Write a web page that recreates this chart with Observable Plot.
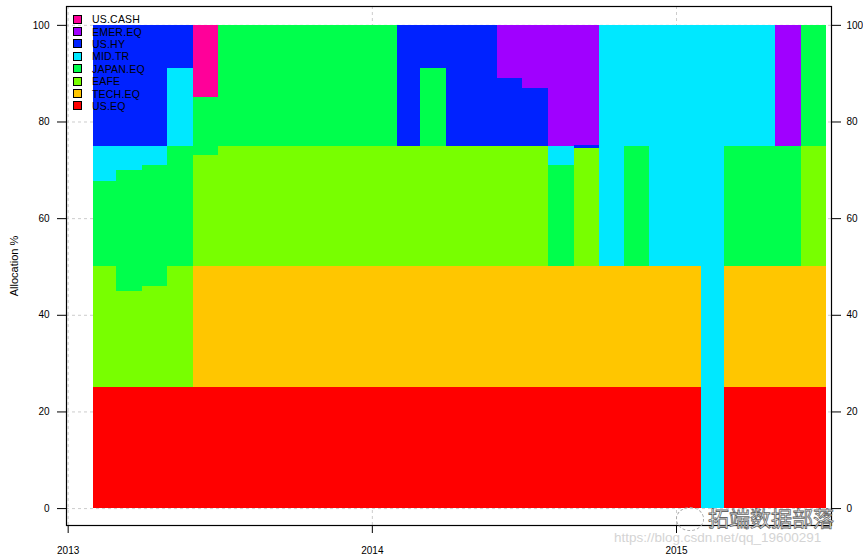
<!DOCTYPE html>
<html>
<head>
<meta charset="utf-8">
<script src="https://cdn.jsdelivr.net/npm/d3@7"></script>
<script src="https://cdn.jsdelivr.net/npm/@observablehq/plot@0.6"></script>
<style>
  html, body { margin: 0; padding: 0; background: #fff; }
  #wrap { position: relative; width: 863px; height: 559px; overflow: hidden; font-family: "Liberation Sans", Arial, sans-serif; }
  #wrap svg g[aria-label="y-axis label"] text { font-size: 11px; }
  #legend { position: absolute; left: 73px; top: 13px; font-size: 10.5px; color: #000; }
  #legend .row { height: 12.4px; display: flex; align-items: center; white-space: nowrap; }
  #legend .sw { width: 7px; height: 7px; border: 1px solid #000; margin-right: 10px; }
  #legend .lb { font-weight: normal; letter-spacing: 0.2px; }
  .wm1 { position: absolute; left: 708px; top: 507px; line-height: 1; font-family: "Noto Sans CJK SC", sans-serif; font-size: 21px; color: #fff; -webkit-text-stroke: 0.8px #666; }
  .wm2 { position: absolute; left: 614px; top: 531px; line-height: 1; font-family: "Liberation Sans", Arial, sans-serif; font-size: 13.5px; color: #d4d4d4; }
  .wmIcon { position: absolute; left: 676px; top: 507px; width: 26px; height: 22px; border: 1px dashed #aaa; border-radius: 50%; }
</style>
</head>
<body>
<div id="wrap"></div>
<script>
// Asset names, bottom to top of the stack
const assets = ["US.EQ", "TECH.EQ", "EAFE", "JAPAN.EQ", "MID.TR", "US.HY", "EMER.EQ", "US.CASH"];
const assetColors = ["#FF0000", "#FFC600", "#78FF00", "#00FF4C", "#00E8FF", "#0022FF", "#A000FF", "#FF0099"];

// Rebalance dates (month ends); each allocation holds until the next date
const periodEnds = [
  "2013-01-31","2013-02-28","2013-03-31","2013-04-30","2013-05-31","2013-06-30",
  "2013-07-31","2013-08-31","2013-09-30","2013-10-31","2013-11-30","2013-12-31",
  "2014-01-31","2014-02-28","2014-03-31","2014-04-30","2014-05-31","2014-06-30",
  "2014-07-31","2014-08-31","2014-09-30","2014-10-31","2014-11-30","2014-12-31",
  "2015-01-31","2015-02-28","2015-03-31","2015-04-30","2015-05-31","2015-06-30"
];

// Allocation % per period (29 periods)
const usEq    = [25,25,25,25,25,25,25,25,25,25,25,25,25,25,25,25,25,25,25,25,25,25,25,25, 0,25,25,25,25];
const techEq  = [ 0, 0, 0, 0,25,25,25,25,25,25,25,25,25,25,25,25,25,25,25,25,25,25,25,25, 0,25,25,25,25];
const eafe    = [25,20,21,25,23,25,25,25,25,25,25,25,25,25,25,25,25,25, 0,24.6, 0, 0, 0, 0, 0, 0, 0, 0,25];
const japanEq = [17.7,25,25,25,12,25,25,25,25,25,25,25, 0,16, 0, 0, 0, 0,21, 0, 0,25, 0, 0, 0,25,25,25,25];
const midTr   = [7.3, 5, 4,16, 0, 0, 0, 0, 0, 0, 0, 0, 0, 0, 0, 0, 0, 0, 4, 0,50,25,50,50,100,25,25, 0, 0];
const usHy    = [25,25,25, 9, 0, 0, 0, 0, 0, 0, 0, 0,25, 9,25,25,14,12, 0,0.5, 0, 0, 0, 0, 0, 0, 0, 0, 0];
const emerEq  = [ 0, 0, 0, 0, 0, 0, 0, 0, 0, 0, 0, 0, 0, 0, 0, 0,11,13,25,24.9, 0, 0, 0, 0, 0, 0, 0,25, 0];
const usCash  = [ 0, 0, 0, 0,15, 0, 0, 0, 0, 0, 0, 0, 0, 0, 0, 0, 0, 0, 0, 0, 0, 0, 0, 0, 0, 0, 0, 0, 0];

const yTicks = [0, 20, 40, 60, 80, 100];
const xTickLabels = ["2013", "2014", "2015"];

// Build stacked table
const series = [usEq, techEq, eafe, japanEq, midTr, usHy, emerEq, usCash];
const rows = [];
for (let k = 0; k < periodEnds.length - 1; k++) {
  let base = 0;
  assets.forEach((a, i) => {
    const v = series[i][k];
    if (v > 0) {
      rows.push({start: new Date(periodEnds[k]), end: new Date(periodEnds[k + 1]), asset: a, y1: base, y2: base + v});
    }
    base += v;
  });
}
const xTicks = xTickLabels.map(s => new Date(s + "-01-01"));

const chart = Plot.plot({
  width: 863,
  height: 559,
  marginLeft: 66,
  marginRight: 32,
  marginTop: 6,
  marginBottom: 34,
  style: {fontFamily: "'Liberation Sans', Arial, sans-serif", fontSize: "10px", color: "#000", background: "#fff"},
  x: {type: "utc", domain: [new Date("2012-12-30"), new Date("2015-07-06")]},
  y: {domain: [-3.5, 103.9]},
  color: {domain: assets, range: assetColors},
  marks: [
    Plot.gridY(yTicks, {stroke: "#cccccc", strokeOpacity: 1, strokeDasharray: "3,3"}),
    Plot.gridX(xTicks, {stroke: "#cccccc", strokeOpacity: 1, strokeDasharray: "3,3"}),
    Plot.rect(rows, {x1: "start", x2: "end", y1: "y1", y2: "y2", fill: "asset", shapeRendering: "crispEdges"}),
    Plot.frame({stroke: "#000", strokeWidth: 1.2}),
    Plot.axisY({ticks: yTicks, tickSize: 9, tickPadding: 8, label: "Allocation %", labelAnchor: "center", labelOffset: 56, labelArrow: "none", fontSize: 10}),
    Plot.axisY({anchor: "right", ticks: yTicks, tickSize: 9, tickPadding: 6, label: null, fontSize: 10}),
    Plot.axisX({ticks: xTicks, tickFormat: d3.utcFormat("%Y"), tickSize: 8, tickPadding: 13, label: null, fontSize: 10})
  ]
});

const wrap = document.getElementById("wrap");
wrap.appendChild(chart);

// Legend (top-left, inside the plot)
const legend = document.createElement("div");
legend.id = "legend";
for (let i = assets.length - 1; i >= 0; i--) {
  const row = document.createElement("div");
  row.className = "row";
  const sw = document.createElement("div");
  sw.className = "sw";
  sw.style.background = assetColors[i];
  const lb = document.createElement("span");
  lb.className = "lb";
  lb.textContent = assets[i];
  row.appendChild(sw);
  row.appendChild(lb);
  legend.appendChild(row);
}
wrap.appendChild(legend);

// Watermark
const icon = document.createElement("div"); icon.className = "wmIcon"; wrap.appendChild(icon);
const wm1 = document.createElement("div"); wm1.className = "wm1"; wm1.textContent = "拓端数据部落"; wrap.appendChild(wm1);
const wm2 = document.createElement("div"); wm2.className = "wm2"; wm2.textContent = "https://blog.csdn.net/qq_19600291"; wrap.appendChild(wm2);
</script>
</body>
</html>
